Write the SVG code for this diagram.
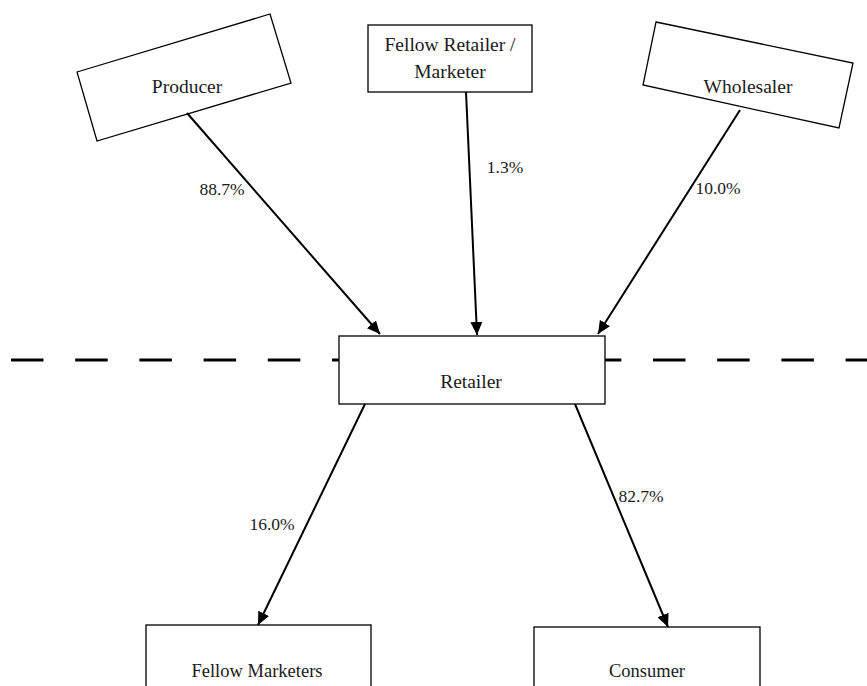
<svg xmlns="http://www.w3.org/2000/svg" width="867" height="686" viewBox="0 0 867 686">
<style>
.box{fill:#fff;stroke:#000;stroke-width:1.3}
.t{font-family:"Liberation Serif","Times New Roman",serif;font-size:19.5px;fill:#1a1a1a;text-anchor:middle}
.b{font-size:18.5px}
.p{font-family:"Liberation Serif","Times New Roman",serif;font-size:17.5px;fill:#1a1a1a;text-anchor:middle}
.c{stroke:#000;stroke-width:2;fill:none;marker-end:url(#ah)}
</style>
<defs>
<marker id="ah" markerUnits="userSpaceOnUse" markerWidth="14" markerHeight="12" refX="13" refY="6" orient="auto">
<path d="M0,0 L13,6 L0,12 Z" fill="#000"/>
</marker>
</defs>
<line x1="11" y1="360" x2="867" y2="360" stroke="#000" stroke-width="3" stroke-dasharray="32.5 31.7"/>
<g id="producer">
<polygon class="box" points="77,72 270,14 291,83 97,141"/>
<text class="t" x="187" y="93">Producer</text>
</g>
<g id="fellow-retailer">
<rect class="box" x="368" y="25" width="164" height="67"/>
<text class="t" x="450" y="51">Fellow Retailer /</text>
<text class="t" x="450" y="78">Marketer</text>
</g>
<g id="wholesaler">
<polygon class="box" points="656,22 853,63 839,128 643,85"/>
<text class="t" x="748" y="93">Wholesaler</text>
</g>
<g id="retailer">
<rect class="box" x="339" y="336" width="266" height="68"/>
<text class="t" x="471" y="388">Retailer</text>
</g>
<g id="fellow-marketers">
<rect class="box" x="146" y="625" width="225" height="70"/>
<text class="t b" x="257" y="677">Fellow Marketers</text>
</g>
<g id="consumer">
<rect class="box" x="534" y="627" width="226" height="70"/>
<text class="t b" x="647" y="677">Consumer</text>
</g>
<g id="connectors">
<line class="c" x1="187" y1="113" x2="380" y2="334"/>
<line class="c" x1="466" y1="92" x2="477" y2="335"/>
<line class="c" x1="740" y1="110" x2="598" y2="334"/>
<line class="c" x1="365" y1="404" x2="258" y2="625"/>
<line class="c" x1="575" y1="404" x2="668" y2="627"/>
<text class="p" x="222" y="195">88.7%</text>
<text class="p" x="505" y="173">1.3%</text>
<text class="p" x="718" y="194">10.0%</text>
<text class="p" x="272" y="530">16.0%</text>
<text class="p" x="641" y="502">82.7%</text>
</g>
</svg>
